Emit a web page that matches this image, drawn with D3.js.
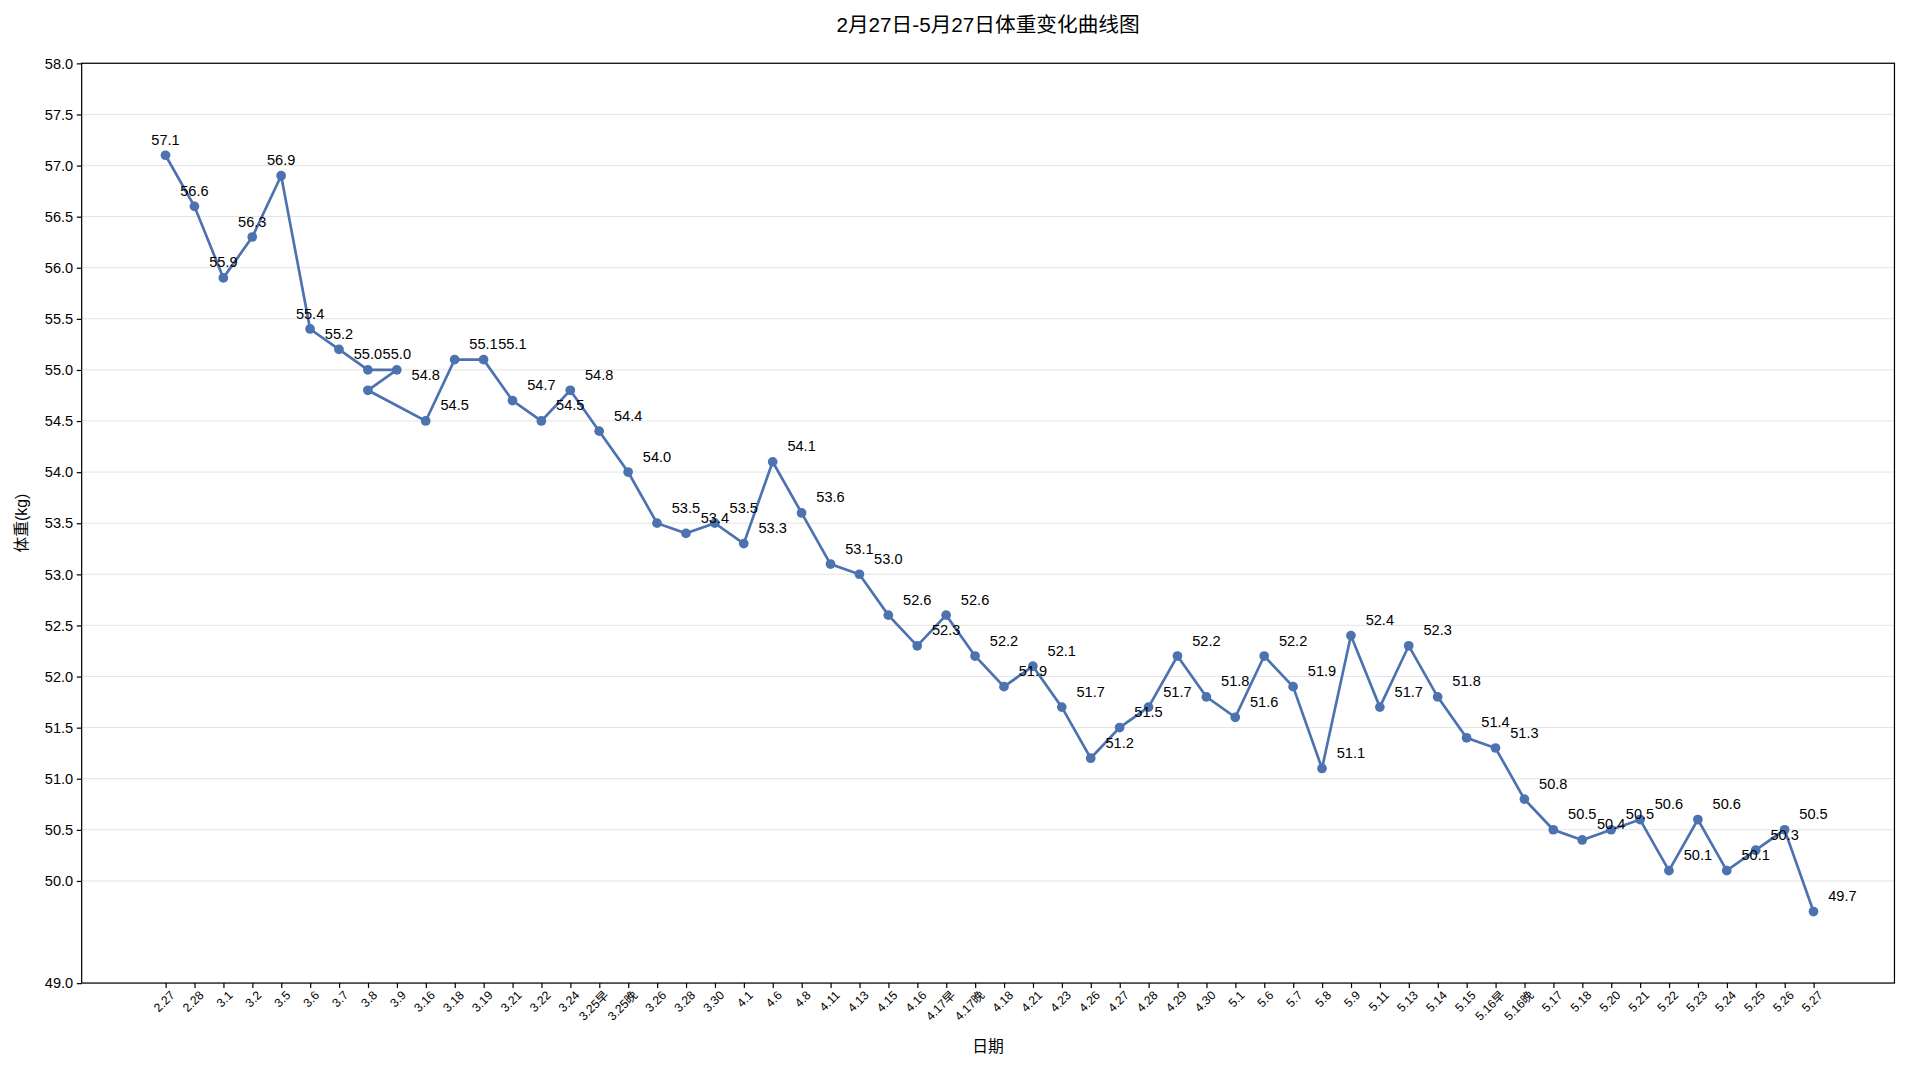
<!DOCTYPE html>
<html><head><meta charset="utf-8">
<script src="https://cdn.jsdelivr.net/npm/d3@7"></script>
<style>body{margin:0;background:#fff}text{font-family:"Liberation Sans","Noto Sans CJK SC",sans-serif}</style>
</head><body><svg id="chart" width="1908" height="1067" viewBox="0 0 1568 877"></svg>
<script>
const categories = ['2.27','2.28','3.1','3.2','3.5','3.6','3.7','3.8','3.9','3.16','3.18','3.19','3.21','3.22','3.24','3.25早','3.25晚','3.26','3.28','3.30','4.1','4.6','4.8','4.11','4.13','4.15','4.16','4.17早','4.17晚','4.18','4.21','4.23','4.26','4.27','4.28','4.29','4.30','5.1','5.6','5.7','5.8','5.9','5.11','5.13','5.14','5.15','5.16早','5.16晚','5.17','5.18','5.20','5.21','5.22','5.23','5.24','5.25','5.26','5.27']
// recorded dates (3.8 appears twice in the log)
const dates = ['2.27','2.28','3.1','3.2','3.5','3.6','3.7','3.8','3.9','3.8','3.16','3.18','3.19','3.21','3.22','3.24','3.25早','3.25晚','3.26','3.28','3.30','4.1','4.6','4.8','4.11','4.13','4.15','4.16','4.17早','4.17晚','4.18','4.21','4.23','4.26','4.27','4.28','4.29','4.30','5.1','5.6','5.7','5.8','5.9','5.11','5.13','5.14','5.15','5.16早','5.16晚','5.17','5.18','5.20','5.21','5.22','5.23','5.24','5.25','5.26','5.27']
const weights = [57.1,56.6,55.9,56.3,56.9,55.4,55.2,55.0,55.0,54.8,54.5,55.1,55.1,54.7,54.5,54.8,54.4,54.0,53.5,53.4,53.5,53.3,54.1,53.6,53.1,53.0,52.6,52.3,52.6,52.2,51.9,52.1,51.7,51.2,51.5,51.7,52.2,51.8,51.6,52.2,51.9,51.1,52.4,51.7,52.3,51.8,51.4,51.3,50.8,50.5,50.4,50.5,50.6,50.1,50.6,50.1,50.3,50.5,49.7]
const yTicks = [49.0,50.0,50.5,51.0,51.5,52.0,52.5,53.0,53.5,54.0,54.5,55.0,55.5,56.0,56.5,57.0,57.5,58.0]

const svg = d3.select('#chart')
const L = 67, R = 1557, T = 52, B = 808
const x = d3.scaleLinear().domain([-2.9, 59.8]).range([L, R])
const y = d3.scaleLinear().domain([49, 58]).range([B, T])
const col = '#4c72b0'

svg.append('g').selectAll('line').data(yTicks).join('line')
  .attr('x1', L).attr('x2', R).attr('y1', d => y(d)).attr('y2', d => y(d))
  .attr('stroke', '#e3e3e3').attr('stroke-width', 0.8)

const xa = svg.append('g').attr('transform', `translate(0,${B})`)
  .call(d3.axisBottom(x).tickValues(d3.range(categories.length)).tickFormat(i => categories[i]).tickSizeOuter(0).tickSize(4))
xa.selectAll('text').attr('font-size', 10).attr('fill', '#000')
  .attr('text-anchor', 'end').attr('dx', '-0.2em').attr('dy', '0.6em').attr('transform', 'rotate(-45)')
xa.select('.domain').remove()

const ya = svg.append('g').attr('transform', `translate(${L},0)`)
  .call(d3.axisLeft(y).tickValues(yTicks).tickFormat(d3.format('.1f')).tickSizeOuter(0).tickSize(4))
ya.selectAll('text').attr('font-size', 12).attr('fill', '#000')
ya.select('.domain').remove()

svg.append('rect').attr('x', L).attr('y', T).attr('width', R - L).attr('height', B - T)
  .attr('fill', 'none').attr('stroke', '#000').attr('stroke-width', 1)

const pts = weights.map((w, i) => ({ xi: categories.indexOf(dates[i]), w, i }))
svg.append('path').datum(pts)
  .attr('d', d3.line().x(d => x(d.xi)).y(d => y(d.w)))
  .attr('fill', 'none').attr('stroke', col).attr('stroke-width', 2.2)
svg.append('g').selectAll('circle').data(pts).join('circle')
  .attr('cx', d => x(d.xi)).attr('cy', d => y(d.w)).attr('r', 4).attr('fill', col)

// value labels placed at the record index
svg.append('g').selectAll('text').data(pts).join('text')
  .attr('x', d => x(d.i)).attr('y', d => y(d.w + 0.15) + 4)
  .attr('text-anchor', 'middle').attr('font-size', 12).attr('fill', '#000')
  .text(d => d.w.toFixed(1))

svg.append('text').attr('x', (L + R) / 2).attr('y', 26).attr('text-anchor', 'middle')
  .attr('font-size', 17).text('2月27日-5月27日体重变化曲线图')
svg.append('text').attr('x', (L + R) / 2).attr('y', 865).attr('text-anchor', 'middle')
  .attr('font-size', 13).text('日期')
svg.append('text').attr('transform', `translate(22,${(T + B) / 2}) rotate(-90)`).attr('text-anchor', 'middle')
  .attr('font-size', 13).text('体重(kg)')
</script></body></html>
